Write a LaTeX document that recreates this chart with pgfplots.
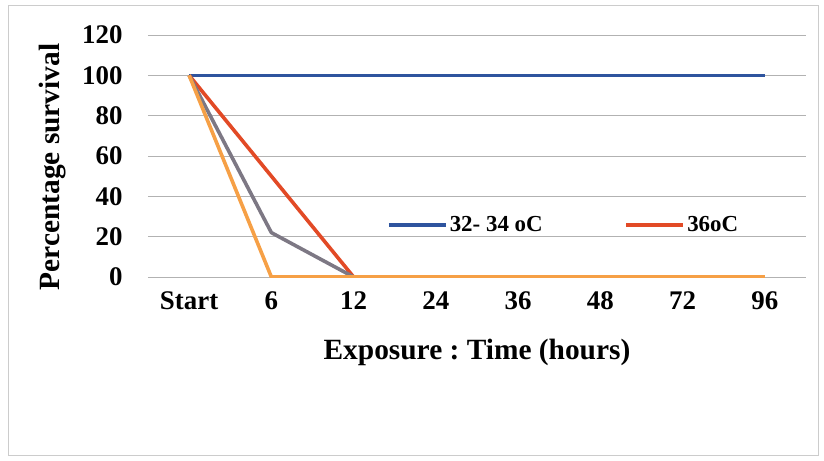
\documentclass[border=0pt]{standalone}
\usepackage{pgfplots}
\pgfplotsset{compat=1.18}
\usepackage{fontspec}
\setmainfont{Liberation Serif}
\frenchspacing
\definecolor{cblue}{RGB}{46,84,158}
\definecolor{cred}{RGB}{226,74,38}
\definecolor{cgray}{RGB}{125,120,132}
\definecolor{corange}{RGB}{246,160,70}
\begin{document}
\begin{tikzpicture}
\useasboundingbox (-148bp,-184bp) rectangle (676bp,277bp);
\draw[gray!40, line width=0.8bp] (-140bp,-178bp) rectangle (670bp,272bp);
\begin{axis}[
  at={(0,0)}, anchor=south west,
  scale only axis, width=658bp, height=242bp,
  xmin=-0.5, xmax=7.5, ymin=0, ymax=120,
  xtick={0,...,7},
  xticklabels={Start,6,12,24,36,48,72,96},
  ytick={0,20,...,120},
  axis line style={draw=none},
  major tick length=0pt,
  ymajorgrids, major grid style={gray!60, line width=0.8bp},
  tick label style={font=\fontsize{27}{30}\selectfont\bfseries},
  /pgf/number format/assume math mode=true,
  xticklabel style={yshift=-11bp},
  yticklabel style={xshift=-22bp},
  xlabel={Exposure : Time (hours)},
  ylabel={Percentage survival},
  label style={font=\fontsize{29.5}{33}\selectfont\bfseries},
  xlabel style={at={(axis description cs:0.5,-0.31)}, anchor=center},
  ylabel style={at={(axis description cs:-0.145,0.4545)}, anchor=center},
  legend columns=2,
  legend style={draw=none, fill=none, at={(236bp,52bp)}, anchor=west,
    font=\fontsize{23}{26}\selectfont\bfseries,
    /tikz/every even column/.append style={column sep=80bp}},
  legend image code/.code={\draw[#1, line width=3.6bp] (0bp,0bp) -- (57bp,0bp);},
  every axis plot/.append style={line width=3.6bp, line join=round},
]
\addplot[cblue, mark=none] coordinates {(0,100)(1,100)(2,100)(3,100)(4,100)(5,100)(6,100)(7,100)};
\addlegendentry{32- 34 oC}
\addplot[cred, mark=none] coordinates {(0,100)(1,50)(2,0)(3,0)(4,0)(5,0)(6,0)(7,0)};
\addlegendentry{36oC}
\addplot[cgray, mark=none, forget plot] coordinates {(0,100)(1,22)(2,0)(3,0)(4,0)(5,0)(6,0)(7,0)};
\addplot[corange, mark=none, forget plot] coordinates {(0,100)(1,0)(2,0)(3,0)(4,0)(5,0)(6,0)(7,0)};
\end{axis}
\end{tikzpicture}
\end{document}
